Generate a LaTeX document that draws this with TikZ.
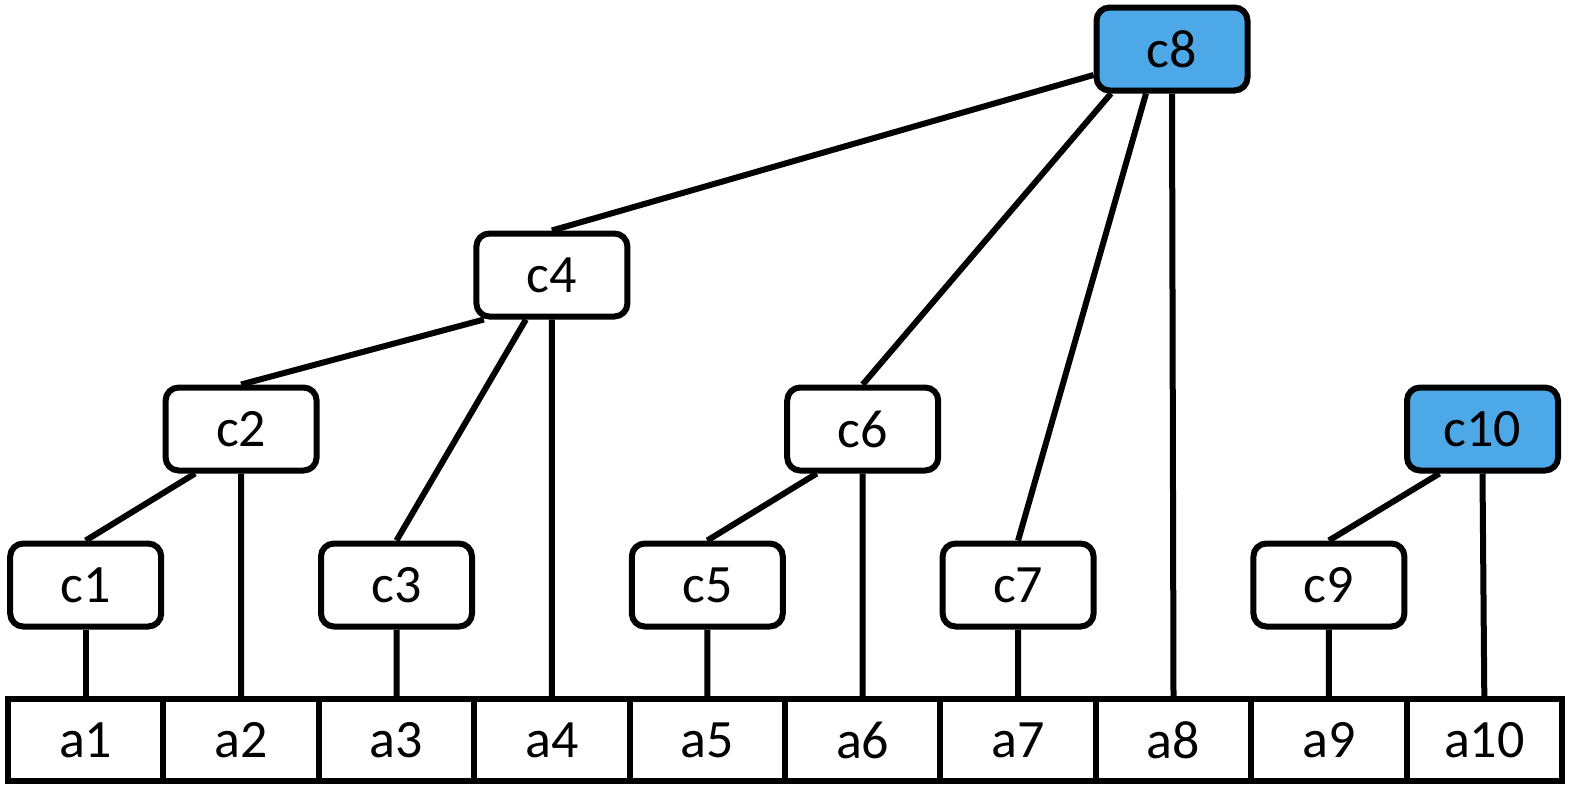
\documentclass[tikz,border=0pt]{standalone}
\usepackage{fontspec}
\setmainfont{Carlito}
\begin{document}
\begin{tikzpicture}[x=1pt,y=-1pt,
  cbox/.style={draw=black,line width=6pt,rounded corners=13pt,fill=white,minimum width=151pt,minimum height=83pt,inner sep=0pt,font=\fontsize{54}{60}\selectfont},
  hbox/.style={cbox,fill=hilite},
  cell/.style={draw=black,line width=6pt,fill=white,minimum width=155.4pt,minimum height=82pt,inner sep=0pt,font=\fontsize{54}{60}\selectfont},
  link/.style={line width=6pt,draw=black}]
\definecolor{hilite}{RGB}{76,168,230}
\useasboundingbox (0,0) rectangle (1569,788);
\foreach \i in {1,...,10}{
  \node[cell] (a\i) at ({8+155.4*(\i-0.5)},740) {a\i};
}
\node[cbox] (c1) at (85.7,585) {c1};
\node[cbox] (c2) at (241.1,429) {c2};
\node[cbox] (c3) at (396.5,585) {c3};
\node[cbox] (c4) at (551.9,275) {c4};
\node[cbox] (c5) at (707.3,585) {c5};
\node[cbox] (c6) at (862.7,429) {c6};
\node[cbox] (c7) at (1018.1,585) {c7};
\node[hbox] (c8) at (1172,49) {c8};
\node[cbox] (c9) at (1328.9,585) {c9};
\node[hbox] (c10) at (1482.5,429) {c10};
\draw[link] (c1.south) -- (a1.north);
\draw[link] (c2.south) -- (a2.north);
\draw[link] ([xshift=-46pt]c2.south) -- (c1.north);
\draw[link] (c3.south) -- (a3.north);
\draw[link] (c4.south) -- (a4.north);
\draw[link] ([xshift=-68pt]c4.south) -- (c2.north);
\draw[link] ([xshift=-26pt]c4.south) -- (c3.north);
\draw[link] (c5.south) -- (a5.north);
\draw[link] (c6.south) -- (a6.north);
\draw[link] ([xshift=-46pt]c6.south) -- (c5.north);
\draw[link] (c7.south) -- (a7.north);
\draw[link] ([yshift=-26pt]c8.west) -- (c4.north);
\draw[link] ([xshift=-61pt]c8.south) -- (c6.north);
\draw[link] ([xshift=-26pt]c8.south) -- (c7.north);
\draw[link] (c8.south) -- (a8.north);
\draw[link] (c9.south) -- (a9.north);
\draw[link] ([xshift=-43pt]c10.south) -- (c9.north);
\draw[link] (c10.south) -- (a10.north);
\end{tikzpicture}
\end{document}
